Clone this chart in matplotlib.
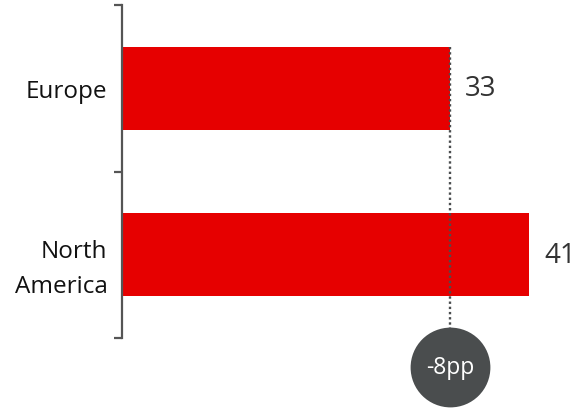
import matplotlib
matplotlib.use("Agg")
import matplotlib.pyplot as plt
import matplotlib.transforms as mtransforms

categories = ["Europe", "North\nAmerica"]
values = [33, 41]
diff_label = "-8pp"

RED = "#e60000"
GREY = "#4a4d4e"

plt.rcParams['font.family'] = ['Open Sans', 'DejaVu Sans']

fig = plt.figure(figsize=(5.78, 4.10), dpi=100)
ax = fig.add_axes([122/578, 71/410, 447/578, 333/410])

y = list(range(len(categories)))
ax.barh(y, values, height=0.5, color=RED)
ax.set_xlim(0, 45)
ax.set_ylim(1.5, -0.5)

for yi, v in zip(y, values):
    ax.annotate(str(v), (v, yi), xytext=(11, 0), textcoords="offset points",
                va="center", ha="left", fontsize=20, color="#333333")

# spines / ticks
for s in ["top", "right", "bottom"]:
    ax.spines[s].set_visible(False)
ax.spines["left"].set_color("#555555")
ax.spines["left"].set_linewidth(1.6)
ax.set_xticks([])
ax.set_yticks(y)
ax.set_yticklabels(categories, fontsize=17.5, color="#111111", linespacing=1.6)
ax.tick_params(axis="y", which="major", length=0, pad=10.5)
ax.set_yticks([-0.5, 0.5, 1.5], minor=True)
ax.tick_params(axis="y", which="minor", length=6, width=1.6, color="#555555", direction="out")
lbl = ax.get_yticklabels()[1]
lbl.set_transform(lbl.get_transform() + mtransforms.ScaledTranslation(0, -5/100, fig.dpi_scale_trans))

# dotted connector and difference bubble
ax.plot([values[0], values[0]], [-0.25, 1.44], linestyle=(0, (1, 1.2)), color=GREY,
        linewidth=1.7, clip_on=False)
ax.scatter([values[0]], [1.675], s=3300, color=GREY, clip_on=False, zorder=5, linewidths=0)
ax.text(values[0], 1.675, diff_label, ha="center", va="center", color="white",
        fontsize=16.5, zorder=6, clip_on=False)

fig.savefig("out.png", dpi=100)
